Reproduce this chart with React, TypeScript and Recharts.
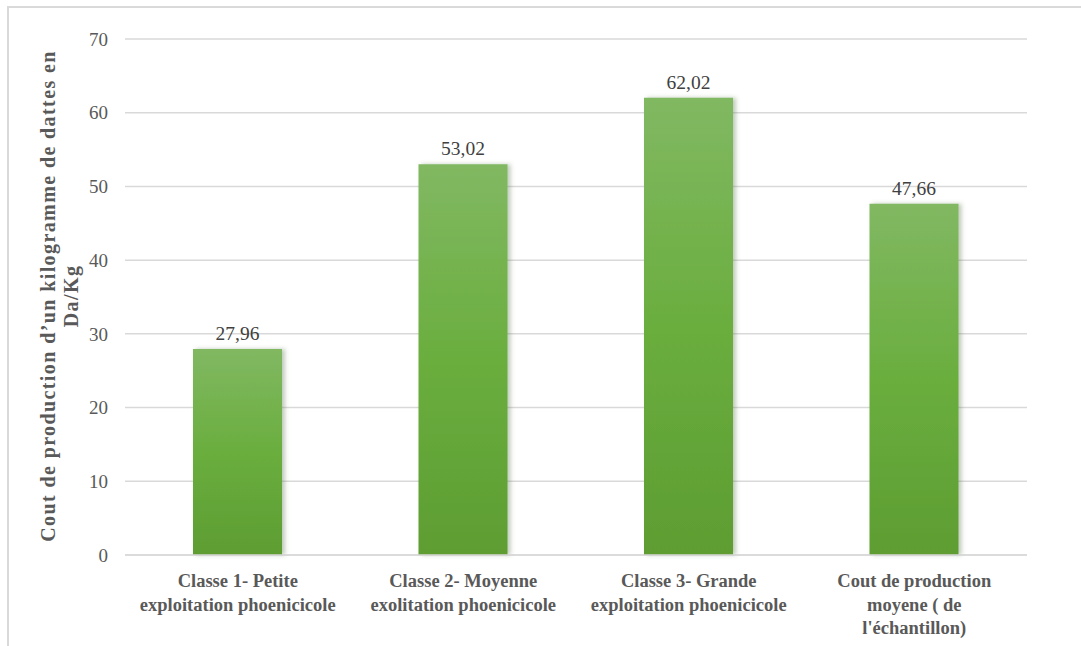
import { BarChart, Bar, XAxis, YAxis, CartesianGrid, LabelList, Label } from 'recharts'

const categories = [
  'Classe 1- Petite exploitation phoenicicole',
  'Classe 2- Moyenne exolitation phoenicicole',
  'Classe 3- Grande exploitation phoenicicole',
  "Cout de production moyene ( de l'échantillon)",
]

// wrapped lines under each bar
const tickLines = [
  ['Classe 1- Petite', 'exploitation phoenicicole'],
  ['Classe 2- Moyenne', 'exolitation phoenicicole'],
  ['Classe 3- Grande', 'exploitation phoenicicole'],
  ['Cout de production', 'moyene ( de', "l'échantillon)"],
]

const costs = [27.96, 53.02, 62.02, 47.66]

const yTicks = [0, 10, 20, 30, 40, 50, 60, 70]

const yTitle = ['Cout de production d\u2019un kilogramme de dattes en', 'Da/Kg']

const FONT = "'Liberation Serif', 'Times New Roman', Times, serif"

const data = categories.map((name, i) => ({ name, cost: costs[i] }))

const boldText = {
  fontFamily: FONT,
  fontWeight: 700,
  fontSize: 18.5,
  fill: '#595959',
}

function CategoryTick(props: any) {
  const { x, y, payload } = props
  const lines = tickLines[payload.index] ?? [payload.value]
  return (
    <g>
      {lines.map((line, i) => (
        <text key={i} x={x} y={y + 24 + i * 23.5} textAnchor="middle" style={boldText}>
          {line}
        </text>
      ))}
    </g>
  )
}

function AxisTitle(props: any) {
  const { viewBox } = props
  const cy = viewBox.y + viewBox.height / 2 - 1
  const xs = [48, 71]
  return (
    <g>
      {yTitle.map((line, i) => (
        <text
          key={i}
          x={xs[i]}
          y={cy}
          transform={`rotate(-90, ${xs[i]}, ${cy})`}
          textAnchor="middle"
          dominantBaseline="central"
          style={{ ...boldText, fontSize: 20, letterSpacing: 1.4 }}
        >
          {line}
        </text>
      ))}
    </g>
  )
}

export default function App() {
  return (
    <div
      style={{
        position: 'absolute',
        left: 0,
        top: 0,
        width: 1081,
        height: 646,
        overflow: 'hidden',
        background: '#fff',
        fontFamily: FONT,
      }}
    >
      <div
        style={{
          position: 'absolute',
          left: 7,
          top: 6,
          width: 1200,
          height: 800,
          border: '2px solid #d9d9d9',
        }}
      />
      <div style={{ position: 'absolute', left: 0, top: 0 }}>
        <BarChart
          width={1081}
          height={646}
          data={data}
          margin={{ top: 39, right: 54, bottom: 6, left: 65 }}
          style={{ fontFamily: FONT }}
        >
          <defs>
            <linearGradient id="barFill" x1="0" y1="0" x2="0" y2="1">
              <stop offset="0%" stopColor="#81b862" />
              <stop offset="50%" stopColor="#6aae3e" />
              <stop offset="100%" stopColor="#5e9d32" />
            </linearGradient>
            <filter id="barShadow" x="-10%" y="-5%" width="130%" height="110%">
              <feDropShadow dx="3" dy="0" stdDeviation="2" floodColor="#4c6b3a" floodOpacity="0.35" />
            </filter>
          </defs>
          <CartesianGrid vertical={false} stroke="#d9d9d9" strokeWidth={1.5} />
          <XAxis
            dataKey="name"
            interval={0}
            height={85}
            tickLine={false}
            axisLine={{ stroke: '#d9d9d9', strokeWidth: 1.5 }}
            tick={<CategoryTick />}
          />
          <YAxis
            width={60}
            domain={[0, 70]}
            ticks={yTicks}
            tickLine={false}
            axisLine={false}
            tickMargin={11}
            tick={{ fill: '#595959', fontSize: 19, style: { fontFamily: FONT } }}
          >
            <Label content={<AxisTitle />} />
          </YAxis>
          <Bar
            dataKey="cost"
            fill="url(#barFill)"
            barSize={89}
            filter="url(#barShadow)"
            isAnimationActive={false}
          >
            <LabelList
              dataKey="cost"
              position="top"
              offset={9}
              fill="#404040"
              fontSize={19.5}
              style={{ fontFamily: FONT }}
              formatter={(v: any) => Number(v).toFixed(2).replace('.', ',')}
            />
          </Bar>
        </BarChart>
      </div>
    </div>
  )
}
